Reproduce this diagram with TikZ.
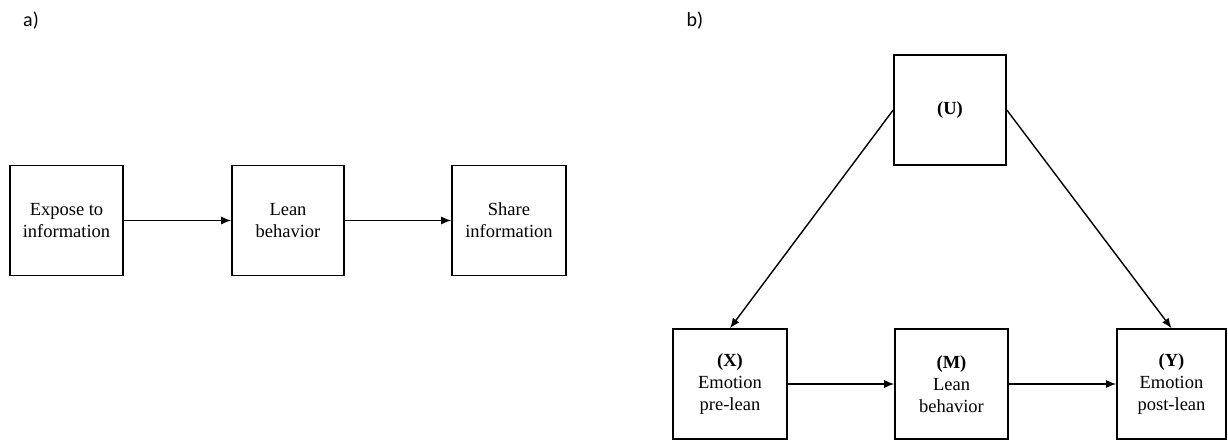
\documentclass[tikz,border=0pt]{standalone}
\usepackage{fontspec}
\setmainfont{Liberation Serif}
\newfontfamily\labelfont{Carlito}
\usetikzlibrary{arrows.meta}
\tikzset{
  box/.style={draw, line width=1.6pt, minimum height=110pt, inner sep=0pt, align=center,
    font=\fontsize{18.5}{22}\selectfont},
  conn/.style={line width=1.4pt, -{Latex[length=10pt,width=8pt]}},
  panel/.style={font=\labelfont\fontsize{20}{22}\selectfont, inner sep=0pt}
}
\begin{document}
\begin{tikzpicture}[x=1pt,y=-1pt]
\useasboundingbox (0,0) rectangle (1228,440);
\node[panel] (la) at (31,21) {a)};
\node[panel] (lb) at (695,21) {b)};
% panel a
\node[box, minimum width=113pt] (a1) at (66.5,220.5) {Expose to\\information};
\node[box, minimum width=112pt] (a2) at (288,220.5) {Lean\\behavior};
\node[box, minimum width=114pt] (a3) at (509,220.5) {Share\\information};
\draw[conn] (a1) -- (a2);
\draw[conn] (a2) -- (a3);
% panel b
\node[box, minimum width=112pt] (u) at (950,110) {\textbf{(U)}};
\node[box, minimum width=114pt] (x) at (730,384) {\textbf{(X)}\\Emotion\\pre-lean};
\node[box, minimum width=113pt] (m) at (951.5,384) {\textbf{(M)}\\Lean\\behavior};
\node[box, minimum width=109pt] (y) at (1171.5,384) {\textbf{(Y)}\\Emotion\\post-lean};
\draw[conn] (u.west) -- (x.north);
\draw[conn] (u.east) -- (y.north);
\draw[conn] (x) -- (m);
\draw[conn] (m) -- (y);
\end{tikzpicture}
\end{document}
